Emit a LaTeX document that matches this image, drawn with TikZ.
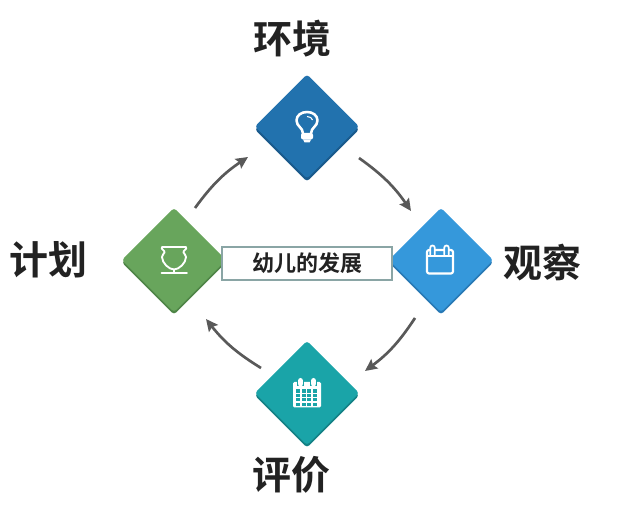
\documentclass[tikz,border=0pt]{standalone}
\usepackage{fontspec}
\setmainfont{Noto Sans CJK SC}[BoldFont={Noto Sans CJK SC Bold}]
\usetikzlibrary{shapes.geometric,arrows.meta}
\definecolor{cA}{HTML}{2272AE}\definecolor{cAs}{HTML}{1A5A8C}
\definecolor{cB}{HTML}{68A55C}\definecolor{cBs}{HTML}{4F8547}
\definecolor{cC}{HTML}{3598DB}\definecolor{cCs}{HTML}{2879B5}
\definecolor{cD}{HTML}{1AA4A8}\definecolor{cDs}{HTML}{148185}
\definecolor{txt}{HTML}{222222}\definecolor{arr}{HTML}{595959}\definecolor{bd}{HTML}{8AA5A5}
\tikzset{
  x=0.75pt,y=-0.75pt,
  gem/.style={diamond,aspect=1,minimum width=78.5pt,minimum height=78.5pt,inner sep=0pt,rounded corners=2.5pt},
  big/.style={font=\fontsize{29.2pt}{31pt}\selectfont\bfseries,text=txt,inner sep=0pt},
  flow/.style={draw=arr,line width=2pt,-{Stealth[length=9pt,width=8.5pt,inset=1.5pt]},bend left=10},
  ico/.style={draw=white,line width=1.4pt,fill=none,line join=round,line cap=round},
}
\begin{document}
\begin{tikzpicture}
\useasboundingbox (0,0) rectangle (621,505);
\node[gem,fill=cAs] (envS) at (307,129.5) {};
\node[gem,fill=cA] (env) at (307,126.5) {};
\node[gem,fill=cBs] (planS) at (174,262.5) {};
\node[gem,fill=cB] (plan) at (174,260) {};
\node[gem,fill=cCs] (obsS) at (441,262.5) {};
\node[gem,fill=cC] (obs) at (441,260) {};
\node[gem,fill=cDs] (evalS) at (307,395.5) {};
\node[gem,fill=cD] (eval) at (307,393) {};
\node[big] (tEnv) at (292.5,39) {环境};
\node[big] (tPlan) at (48,260) {计划};
\node[big] (tObs) at (542,263) {观察};
\node[big] (tEval) at (291,475) {评价};
\node[draw=bd,line width=1.6pt,fill=white,minimum width=128pt,minimum height=25pt,inner sep=0pt,text=txt,font=\fontsize{16.5pt}{18pt}\selectfont\bfseries] (core) at (307,263.5) {幼儿的发展};
\draw[flow] ([shift={(21,-52)}]plan.center) to ([shift={(-59,30.5)}]env.center);
\draw[flow] ([shift={(52,31.5)}]env.center) to ([shift={(-30,-49)}]obs.center);
\draw[flow] ([shift={(-26,58)}]obs.center) to ([shift={(58,-22)}]eval.center);
\draw[flow] ([shift={(-46,-25)}]eval.center) to ([shift={(32,59)}]plan.center);
% bulb
\begin{scope}[shift={(env.center)}]
\draw[ico,line width=1.9pt] (-4,7) .. controls (-4,1) and (-10.5,0) .. (-10.5,-6) .. controls (-10.5,-11) and (-6,-14.5) .. (0,-14.5) .. controls (6,-14.5) and (10.5,-11) .. (10.5,-6) .. controls (10.5,0) and (4,1) .. (4,7);
\fill[white,rounded corners=1.5pt] (-6,6.5) rectangle (6,13);
\fill[white] (-4,13) -- (4,13) -- (2.5,16) -- (-2.5,16) -- cycle;
\draw[white,line width=0.8pt] (0,-10) .. controls (3,-10) and (5,-8.5) .. (5.5,-6.5);
\end{scope}
% vase
\begin{scope}[shift={(plan.center)}]
\draw[ico] (-12,-13) -- (12,-13) .. controls (13.5,-10.5) and (9,-10) .. (9.5,-7.5) .. controls (9.8,-5.5) and (12,-6) .. (12,-3) .. controls (12,3) and (5,9.5) .. (0,9.5) .. controls (-5,9.5) and (-12,3) .. (-12,-3) .. controls (-12,-6) and (-9.8,-5.5) .. (-9.5,-7.5) .. controls (-9,-10) and (-13.5,-10.5) .. (-12,-13) -- cycle;
\draw[ico] (0,9.5) -- (0,13);
\draw[ico] (-12.5,13) -- (13,13);
\end{scope}
% calendar
\begin{scope}[shift={(obs.center)}]
\draw[ico,line width=1.6pt,rounded corners=1.5pt] (-14,-10) rectangle (12,13.5);
\draw[ico] (-14,-4) -- (12,-4);
\foreach \a in {-8.5,5.5}{
  \fill[cC] (\a-2.2,-12) rectangle (\a+2.2,-5.5);
  \draw[ico,line width=1.3pt,rounded corners=1.6pt] (\a-2.2,-5.5) -- (\a-2.2,-14.5) -- (\a+2.2,-14.5) -- (\a+2.2,-5.5);
}
\end{scope}
% calendar grid
\begin{scope}[shift={(eval.center)}]
\fill[white,rounded corners=1pt] (-14,-11) rectangle (14,14.5);
\foreach \i in {0,1,2,3}{\foreach \j in {0,1,2,3}{
  \fill[cD] (-10.6+\i*5.4,-3.5+\j*4.4) rectangle ++(3.9,3.1);}}
\foreach \a in {-6.5,6.5}{
  \fill[cD] (\a-3.4,-14.5) rectangle (\a+3.4,-6.5);
  \fill[white,rounded corners=1.8pt] (\a-2.4,-15) rectangle (\a+2.4,-6.5);
}
\end{scope}
\end{tikzpicture}
\end{document}
